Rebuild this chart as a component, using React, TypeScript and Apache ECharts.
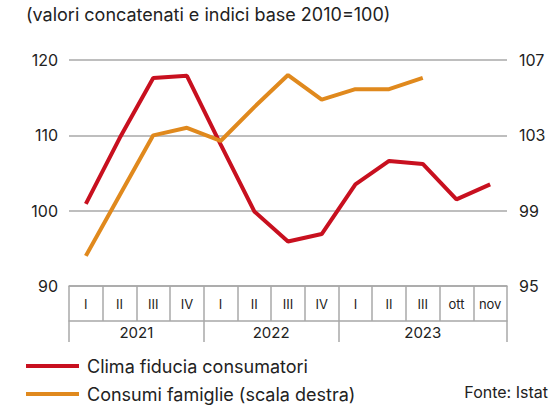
import React, { useEffect, useRef } from "react";
import * as echarts from "echarts";

const categories = ["I", "II", "III", "IV", "I", "II", "III", "IV", "I", "II", "III", "ott", "nov"];
const years = ["2021", "2022", "2023"];
const yearStarts = [0, 4, 8, 13];
const yearCenters = [2, 6, 10.5];
const clima = [100.9, 109.6, 117.6, 117.9, 108.8, 99.9, 95.9, 96.9, 103.5, 106.6, 106.2, 101.5, 103.5];
const consumi = [96.6, 99.8, 103.0, 103.4, 102.7, 104.5, 106.2, 104.9, 105.45, 105.45, 106.05, null, null];
const leftTicks = { min: 90, max: 120, interval: 10 };
const rightTicks = { min: 95, max: 107, interval: 4 };

const FONT = "Inter, 'Noto Sans', sans-serif";
const TEXT = "#222";
const LINE = "#a8a8a8";
const RED = "#c8101f";
const ORANGE = "#e0891d";

export default function App() {
  const ref = useRef<HTMLDivElement>(null);
  useEffect(() => {
    if (!ref.current) return;
    const chart = echarts.init(ref.current, undefined, { renderer: "svg" });
    chart.setOption({
      animation: false,
      textStyle: { fontFamily: FONT, color: TEXT },
      grid: { left: 69, right: 44, top: 60, bottom: 122, containLabel: false },
      title: {
        text: "(valori concatenati e indici base 2010=100)",
        left: 21,
        top: 0,
        textStyle: { fontFamily: FONT, fontSize: 18, fontWeight: "normal", color: TEXT },
      },
      legend: {
        orient: "vertical",
        left: 26,
        top: 357,
        height: 60,
        padding: 0,
        itemWidth: 53,
        itemHeight: 4,
        itemGap: 10,
        icon: "rect",
        textStyle: { fontFamily: FONT, fontSize: 18, color: TEXT, padding: [0, 0, 0, 3] },
        data: ["Clima fiducia consumatori", "Consumi famiglie (scala destra)"],
      },
      graphic: [
        {
          type: "text",
          right: 3,
          top: 384,
          style: { text: "Fonte: Istat", font: `16px ${FONT}`, fill: TEXT },
        },
      ],
      xAxis: [
        {
          type: "category",
          data: categories,
          position: "bottom",
          boundaryGap: true,
          axisLine: { show: true, lineStyle: { color: LINE, width: 1.5 } },
          axisTick: { show: true, length: 35, interval: 0, alignWithLabel: false, lineStyle: { color: LINE, width: 1.5 } },
          axisLabel: { interval: 0, fontSize: 13, color: TEXT, margin: 11, fontFamily: FONT },
          splitLine: { show: false },
        },
        {
          type: "value",
          min: 0,
          max: categories.length,
          position: "bottom",
          offset: 35,
          axisLine: { show: true, lineStyle: { color: LINE, width: 1.5 } },
          axisTick: { show: true, length: 21, customValues: yearStarts, lineStyle: { color: LINE, width: 1.5 } },
          axisLabel: {
            customValues: yearCenters,
            fontSize: 15,
            color: TEXT,
            margin: 4,
            fontFamily: FONT,
            formatter: (v: number) => years[yearCenters.indexOf(v)] ?? "",
          },
          splitLine: { show: false },
        },
      ],
      yAxis: [
        {
          type: "value",
          ...leftTicks,
          position: "left",
          axisLine: { show: false },
          axisTick: { show: false },
          axisLabel: { fontSize: 16, color: TEXT, margin: 11, fontFamily: FONT },
          splitLine: { show: true, lineStyle: { color: LINE, width: 1.5 } },
        },
        {
          type: "value",
          ...rightTicks,
          position: "right",
          axisLine: { show: false },
          axisTick: { show: false },
          axisLabel: { fontSize: 16, color: TEXT, margin: 12, fontFamily: FONT },
          splitLine: { show: false },
        },
      ],
      series: [
        {
          name: "Clima fiducia consumatori",
          type: "line",
          xAxisIndex: 0,
          yAxisIndex: 0,
          data: clima,
          symbol: "none",
          lineStyle: { color: RED, width: 4 },
          itemStyle: { color: RED },
        },
        {
          name: "Consumi famiglie (scala destra)",
          type: "line",
          xAxisIndex: 0,
          yAxisIndex: 1,
          data: consumi,
          symbol: "none",
          lineStyle: { color: ORANGE, width: 4 },
          itemStyle: { color: ORANGE },
        },
      ],
    });
    return () => chart.dispose();
  }, []);
  return <div ref={ref} style={{ width: 551, height: 408, position: "absolute", left: 0, top: 0 }} />;
}
